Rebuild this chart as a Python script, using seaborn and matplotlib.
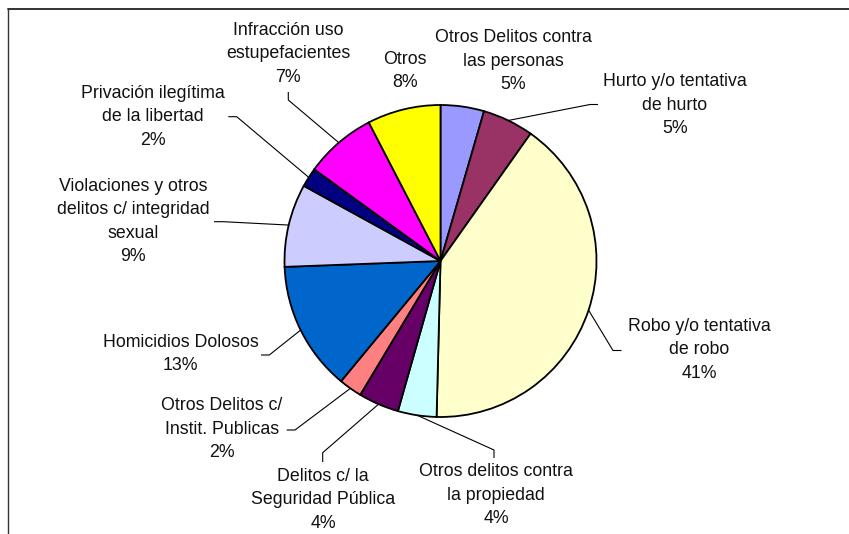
import numpy as np
import matplotlib
matplotlib.use("Agg")
import matplotlib.pyplot as plt
import seaborn as sns
from matplotlib.lines import Line2D

# ---- data ----
categories = [
    "Otros Delitos contra\nlas personas",
    "Hurto y/o tentativa\nde hurto",
    "Robo y/o tentativa\nde robo",
    "Otros delitos contra\nla propiedad",
    "Delitos c/ la\nSeguridad Pública",
    "Otros Delitos c/\nInstit. Publicas",
    "Homicidios Dolosos",
    "Violaciones y otros\ndelitos c/ integridad\nsexual",
    "Privación ilegítima\nde la libertad",
    "Infracción uso\nestupefacientes",
    "Otros",
]
shares = [4.5, 5.3, 40.6, 4.0, 4.2, 2.4, 13.4, 8.6, 2.0, 7.4, 7.6]
pct_labels = ["5%", "5%", "41%", "4%", "4%", "2%", "13%", "9%", "2%", "7%", "8%"]
colors = ["#9999FF", "#993366", "#FFFFCC", "#CCFFFF", "#660066", "#FF8080",
          "#0066CC", "#CCCCFF", "#000080", "#FF00FF", "#FFFF00"]

# ---- layout (pixels in the 849x534 canvas) ----
W, H = 849, 534
CX, CY, R = 440.5, 261.0, 156.0
# label centre, elbow point, end point of the leader (None = no leader)
label_layout = [
    ((513, 61), None, None),
    ((675, 105), (590, 104.5), (598, 104.5)),
    ((699, 350), (613, 350.5), (621.5, 350.5)),
    ((496, 495), (494, 450), (494, 458)),
    ((323, 500), (322.7, 452.7), (322.7, 462)),
    ((221.7, 429), (295, 430), (286.7, 430)),
    ((180.7, 354), (269.3, 355), (261, 355)),
    ((133, 221.7), (223.3, 221.7), (214, 221.7)),
    ((153.3, 116.7), (236.7, 116.7), (228.3, 116.7)),
    ((288.3, 54), (288.3, 100), (288.3, 92)),
    ((405, 71), None, None),
]

sns.set_style("white")
plt.rcParams["font.family"] = ["Liberation Sans", "DejaVu Sans"]

fig = plt.figure(figsize=(W / 100, H / 100), dpi=100)
ax = fig.add_axes([0, 0, 1, 1])

pal = sns.color_palette(colors)
wedges, _ = ax.pie(shares, colors=pal, startangle=90, counterclock=False,
                   radius=1.0, center=(0, 0),
                   wedgeprops=dict(edgecolor="black", linewidth=1.3))

ax.set_xlim(-CX / R, (W - CX) / R)
ax.set_ylim(-(H - CY) / R, CY / R)
ax.set_aspect("auto")
ax.axis("off")


def to_data(p):
    return ((p[0] - CX) / R, (CY - p[1]) / R)


for w, cat, pct, (lc, elbow, end) in zip(wedges, categories, pct_labels, label_layout):
    x, y = to_data(lc)
    ax.text(x, y, f"{cat}\n{pct}", ha="center", va="center", multialignment="center",
            fontsize=12.8, color="#111111", linespacing=1.5)
    if elbow is not None:
        mid = np.deg2rad((w.theta1 + w.theta2) / 2)
        sx, sy = np.cos(mid), np.sin(mid)
        ex, ey = to_data(elbow)
        nx, ny = to_data(end)
        ax.plot([sx, ex, nx], [sy, ey, ny], color="black", lw=0.8,
                solid_capstyle="butt", zorder=0.5)

# chart-area frame: only top and left edges are visible in the crop
fig.add_artist(Line2D([8 / W, 1], [1 - 8.7 / H, 1 - 8.7 / H], transform=fig.transFigure,
                      color="#333333", lw=1.4))
fig.add_artist(Line2D([8 / W, 8 / W], [0, 1 - 8.7 / H], transform=fig.transFigure,
                      color="#333333", lw=1.0))

fig.savefig("out.png", dpi=100, facecolor="white")
